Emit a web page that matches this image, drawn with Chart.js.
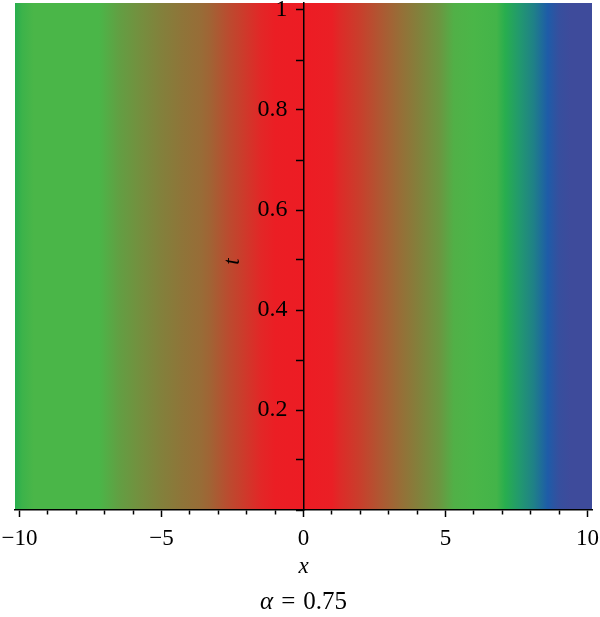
<!DOCTYPE html>
<html>
<head>
<meta charset="utf-8">
<script src="https://cdn.jsdelivr.net/npm/chart.js@4/dist/chart.umd.min.js"></script>
<style>
  body { margin: 0; background: #fff; }
  #wrap { width: 600px; height: 617px; }
</style>
</head>
<body>
<div id="wrap"><canvas id="myChart"></canvas></div>
<script>
// x positions where the shading was read, and the shade level there
// (0 = red, 1 = green, 2 = blue)
const xStops = [-10.2, -9.9, -9.5, -8, -7.2, -6.5, -5.8, -5.1, -4.3, -3.6,
                -3.3, -2.6, -2.2, -1.5, -1.0, 0, 1.0, 1.3, 2.0, 2.7,
                3.4, 4.1, 4.8, 5.3, 6, 6.8, 7.1, 7.6, 8.1, 8.6,
                9.0, 9.4, 10.2];
const shade = [1.25, 1.1, 1.0, 1.0, 1.0, 0.85, 0.75, 0.66, 0.58, 0.52,
               0.47, 0.3, 0.22, 0.07, 0.01, 0, 0.02, 0.1, 0.23, 0.38,
               0.53, 0.66, 0.8, 0.96, 1.0, 1.05, 1.25, 1.45, 1.6, 1.8,
               1.95, 2.0, 2.0];
const xRange = [-10.16, 10.16];
const tTop = 1.014;
const xTickLabels = [-10, -5, 0, 5, 10];
const tTickLabels = [0.2, 0.4, 0.6, 0.8, 1];
const alpha = 0.75;

// colour ramp for the shade level
const ramp = [
  [0, [237, 28, 36]],
  [1, [74, 182, 72]],
  [1.25, [40, 174, 78]],
  [1.5, [32, 148, 118]],
  [1.8, [30, 92, 168]],
  [2, [62, 75, 155]]
];
function shadeColor(v) {
  for (let i = 1; i < ramp.length; i++) {
    if (v <= ramp[i][0]) {
      const a = ramp[i - 1], b = ramp[i];
      const f = (v - a[0]) / (b[0] - a[0]);
      const c = a[1].map((k, j) => Math.round(k + (b[1][j] - k) * f));
      return `rgb(${c[0]},${c[1]},${c[2]})`;
    }
  }
  const c = ramp[ramp.length - 1][1];
  return `rgb(${c[0]},${c[1]},${c[2]})`;
}

const serif = '"Liberation Serif", "DejaVu Serif", serif';

const fillData = xStops.map(x => ({ x: x, y: tTop }));

// labels must not push the plot area inwards
const noPad = s => { s.paddingTop = 0; s.paddingBottom = 0; s.paddingLeft = 0; s.paddingRight = 0; };

const extraText = {
  id: 'extraText',
  afterDraw(chart) {
    const { ctx, chartArea, scales } = chart;
    ctx.save();
    ctx.fillStyle = '#000';
    // t label, rotated
    ctx.translate(scales.x.getPixelForValue(0) - 71, (chartArea.top + chartArea.bottom) / 2 + 5);
    ctx.rotate(-Math.PI / 2);
    ctx.font = 'italic 23px ' + serif;
    ctx.textAlign = 'center';
    ctx.textBaseline = 'middle';
    ctx.fillText('t', 0, 0);
    ctx.restore();

    // caption: italic alpha, upright "= 0.75"
    ctx.save();
    ctx.fillStyle = '#000';
    ctx.textBaseline = 'middle';
    ctx.textAlign = 'left';
    const fi = 'italic 25px ' + serif, fu = '25px ' + serif;
    const gap = 8;
    ctx.font = fi;
    const wa = ctx.measureText('α').width;
    ctx.font = fu;
    const we = ctx.measureText('=').width;
    const wn = ctx.measureText(String(alpha)).width;
    let x0 = scales.x.getPixelForValue(0) - (wa + we + wn + 2 * gap) / 2;
    ctx.font = fi;
    ctx.fillText('α', x0, 602);
    x0 += wa + gap;
    ctx.font = fu;
    ctx.fillText('=', x0, 602);
    x0 += we + gap;
    ctx.fillText(String(alpha), x0, 602);
    ctx.restore();
  }
};

new Chart(document.getElementById('myChart'), {
  type: 'line',
  data: {
    datasets: [{
      data: fillData,
      borderWidth: 0,
      pointRadius: 0,
      fill: 'origin',
      backgroundColor(c) {
        const chart = c.chart;
        const area = chart.chartArea;
        if (!area) return 'transparent';
        const xs = chart.scales.x;
        const g = chart.ctx.createLinearGradient(area.left, 0, area.right, 0);
        xStops.forEach((x, i) => {
          let p = (xs.getPixelForValue(x) - area.left) / (area.right - area.left);
          p = Math.min(1, Math.max(0, p));
          g.addColorStop(p, shadeColor(shade[i]));
        });
        return g;
      }
    }]
  },
  options: {
    responsive: true,
    maintainAspectRatio: false,
    animation: false,
    events: [],
    layout: { padding: { left: 15, right: 8, top: 3, bottom: 32 } },
    plugins: { legend: { display: false }, tooltip: { enabled: false } },
    scales: {
      x: {
        type: 'linear',
        min: xRange[0],
        max: xRange[1],
        afterFit: s => { noPad(s); s.height = 75; },
        border: { display: true, color: '#000', width: 1.5, z: 1 },
        grid: {
          drawOnChartArea: false,
          drawTicks: true,
          tickLength: 7,
          tickColor: '#000',
          tickWidth: 1.5,
          tickBorderDash: c => (xTickLabels.includes(c.tick.value) ? [] : [4, 20])
        },
        ticks: {
          stepSize: 1,
          includeBounds: false,
          autoSkip: false,
          maxRotation: 0,
          padding: 10.5,
          color: '#000',
          font: { family: serif, size: 23, lineHeight: 1.0 },
          callback: v => (xTickLabels.includes(v) ? (v < 0 ? '\u2212' + Math.abs(v) : String(v)) : '')
        },
        title: {
          display: true,
          text: 'x',
          color: '#000',
          font: { family: serif, size: 23, style: 'italic' },
          padding: { top: 0, bottom: 4 }
        }
      },
      y: {
        type: 'linear',
        // x range is symmetric, so the centre is x = 0
        position: 'center',
        min: 0,
        max: tTop,
        afterFit: noPad,
        border: { display: true, color: '#000', width: 1.5, z: 2 },
        grid: {
          z: 1,
          drawOnChartArea: false,
          drawTicks: true,
          tickLength: 7,
          tickColor: '#000',
          tickWidth: 1.5
        },
        ticks: {
          z: 1,
          stepSize: 0.1,
          includeBounds: false,
          autoSkip: false,
          padding: 9,
          color: '#000',
          font: { family: serif, size: 24 },
          callback: v => {
            const r = Math.round(v * 10) / 10;
            return tTickLabels.includes(r) ? String(r) : '';
          }
        }
      }
    }
  },
  plugins: [extraText]
});
</script>
</body>
</html>
